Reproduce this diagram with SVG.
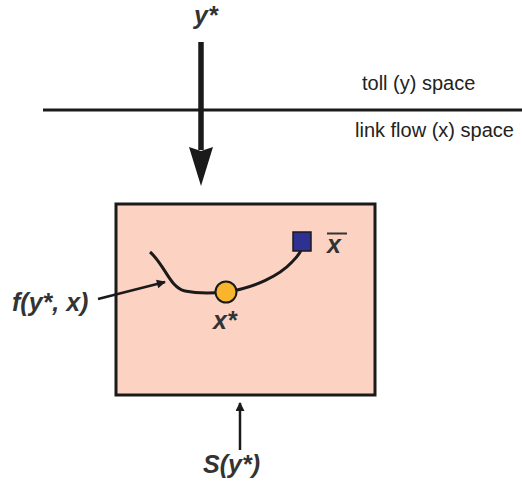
<svg xmlns="http://www.w3.org/2000/svg" width="522" height="487" viewBox="0 0 522 487">
<defs>
<style>
.lbl{font-family:"Liberation Sans",Arial,sans-serif;font-weight:bold;font-style:italic;fill:#333;font-size:25px}
.sp{font-family:"Liberation Sans",Arial,sans-serif;fill:#222;font-size:20px}
.ln{stroke:#1a1a1a;fill:none}
</style>
<marker id="ahs" viewBox="0 0 10 10" refX="9" refY="5" markerWidth="13" markerHeight="9" markerUnits="userSpaceOnUse" orient="auto"><path d="M0,0 L10,5 L0,10 Z" fill="#1a1a1a"/></marker>
</defs>
<rect width="522" height="487" fill="#fff"/>
<g id="divider">
<line class="ln" x1="43" y1="110" x2="522" y2="110" stroke-width="3"/>
<text class="sp" x="362" y="90">toll (y) space</text>
<text class="sp" x="355" y="137">link flow (x) space</text>
</g>
<g id="set">
<rect x="116" y="204" width="259" height="191" fill="#fcd3c2" stroke="#1a1a1a" stroke-width="3"/>
</g>
<g id="curve">
<path class="ln" stroke-width="3" d="M150,252 C165,265 170,288 185,291 C200,294 215,293 226,292 C255,288 280,275 292,262 C297,257 300,253 301,250"/>
</g>
<g id="xstar">
<circle cx="226" cy="292" r="10.5" fill="#f9b52b" stroke="#1a1a1a" stroke-width="2"/>
<text class="lbl" x="213" y="329">x*</text>
</g>
<g id="xbar">
<rect x="293" y="232" width="18" height="19" fill="#2e3192" stroke="#1a1a1a" stroke-width="1.5"/>
<text class="lbl" x="327" y="253" font-size="24">x</text>
<line x1="327" y1="233.5" x2="347" y2="233.5" stroke="#333" stroke-width="2"/>
</g>
<g id="ystar">
<text class="lbl" x="194" y="24" font-size="24">y*</text>
</g>
<g id="fyx">
<text class="lbl" x="12" y="311">f(y*, x)</text>
</g>
<g id="sy">
<text class="lbl" x="203" y="473">S(y*)</text>
</g>
<g id="connectors">
<line class="ln" x1="201" y1="42" x2="201" y2="150" stroke-width="5.5"/>
<path d="M189,147 L201,151 L213,147 L201,186 Z" fill="#1a1a1a"/>
<line class="ln" x1="98" y1="299" x2="165" y2="282" stroke-width="2.5" marker-end="url(#ahs)"/>
<line class="ln" x1="240" y1="450" x2="240" y2="403" stroke-width="2.5" marker-end="url(#ahs)"/>
</g>
</svg>
